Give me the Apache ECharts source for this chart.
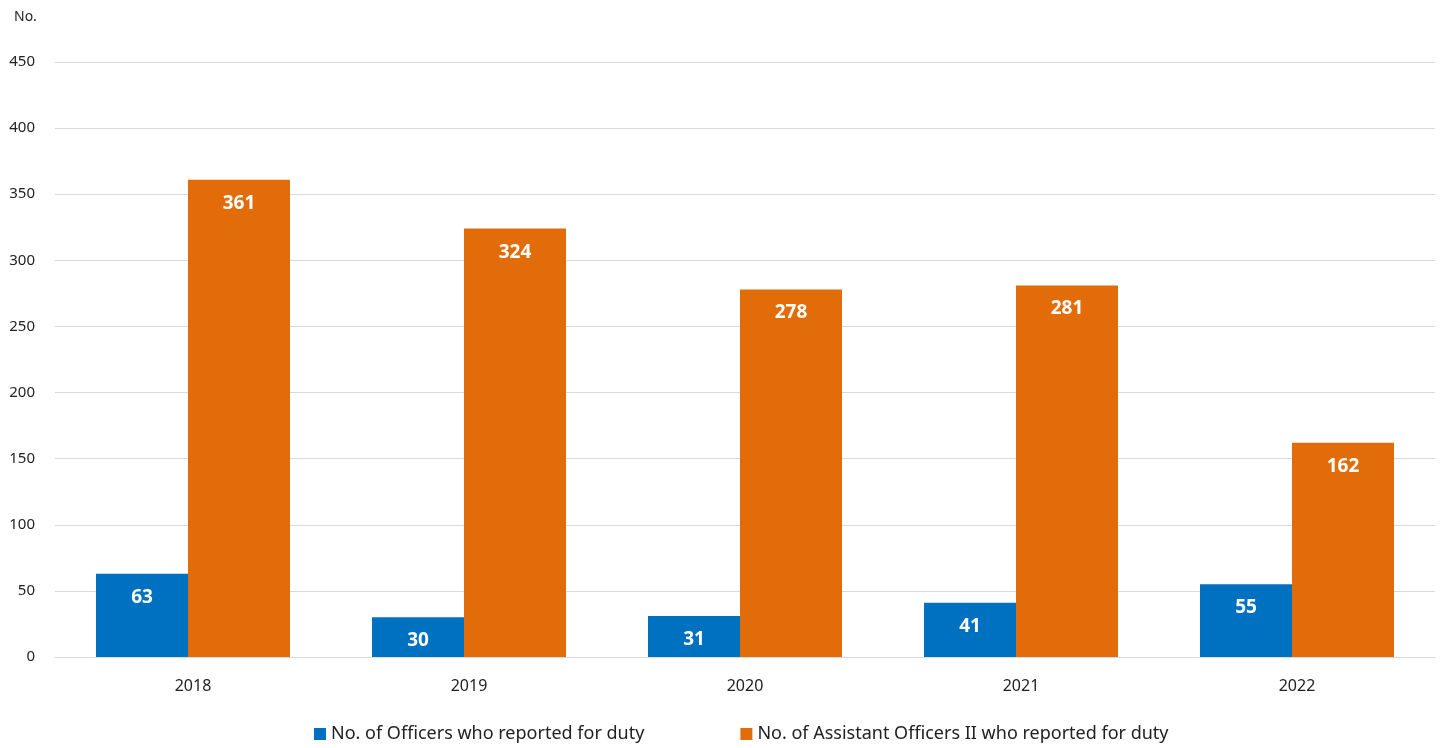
<!DOCTYPE html>
<html style="height: 100%">
<head>
<meta charset="utf-8">
</head>
<body style="height: 100%; margin: 0; background: #fff">
<div id="container" style="width: 1446px; height: 748px"></div>
<script src="https://cdn.jsdelivr.net/npm/echarts@6/dist/echarts.min.js"></script>
<script>
var years = ['2018', '2019', '2020', '2021', '2022'];
var officers = [63, 30, 31, 41, 55];
var assistants = [361, 324, 278, 281, 162];
var seriesNames = ['No. of Officers who reported for duty', 'No. of Assistant Officers II who reported for duty'];

var font = 'Noto Sans';
var myChart = echarts.init(document.getElementById('container'));

var labelStyle = {
    show: true,
    position: 'insideTop',
    distance: 14,
    color: '#fff',
    fontFamily: font,
    fontWeight: 'bold',
    fontSize: 19
};

var option = {
    backgroundColor: '#fff',
    animation: false,
    textStyle: { fontFamily: font },
    grid: { left: 55, right: 11, top: 62, bottom: 91 },
    graphic: [{
        type: 'text', left: 14, top: 10,
        style: { text: 'No.', fontFamily: font, fontSize: 14, fill: '#222' }
    }],
    legend: {
        bottom: 0,
        left: 309,
        itemWidth: 12,
        itemHeight: 12,
        itemGap: 96,
        icon: 'rect',
        textStyle: { fontFamily: font, fontSize: 18, color: '#222' },
        data: seriesNames
    },
    xAxis: {
        type: 'category',
        data: years,
        axisLine: { lineStyle: { color: '#d9d9d9' } },
        axisTick: { show: false },
        axisLabel: { fontFamily: font, fontSize: 16, color: '#222', margin: 21 }
    },
    yAxis: {
        type: 'value',
        min: 0,
        max: 450,
        interval: 50,
        axisLine: { show: false },
        axisTick: { show: false },
        splitLine: { lineStyle: { color: '#d9d9d9' } },
        axisLabel: { fontFamily: font, fontSize: 15, color: '#222', margin: 20 }
    },
    series: [{
        name: seriesNames[0],
        type: 'bar',
        data: officers,
        barWidth: 92,
        barGap: 0,
        itemStyle: { color: '#0070c0' },
        label: labelStyle
    }, {
        name: seriesNames[1],
        type: 'bar',
        data: assistants,
        barWidth: 102,
        barGap: 0,
        itemStyle: { color: '#e36c0a' },
        label: labelStyle
    }]
};

myChart.setOption(option);
</script>
</body>
</html>
